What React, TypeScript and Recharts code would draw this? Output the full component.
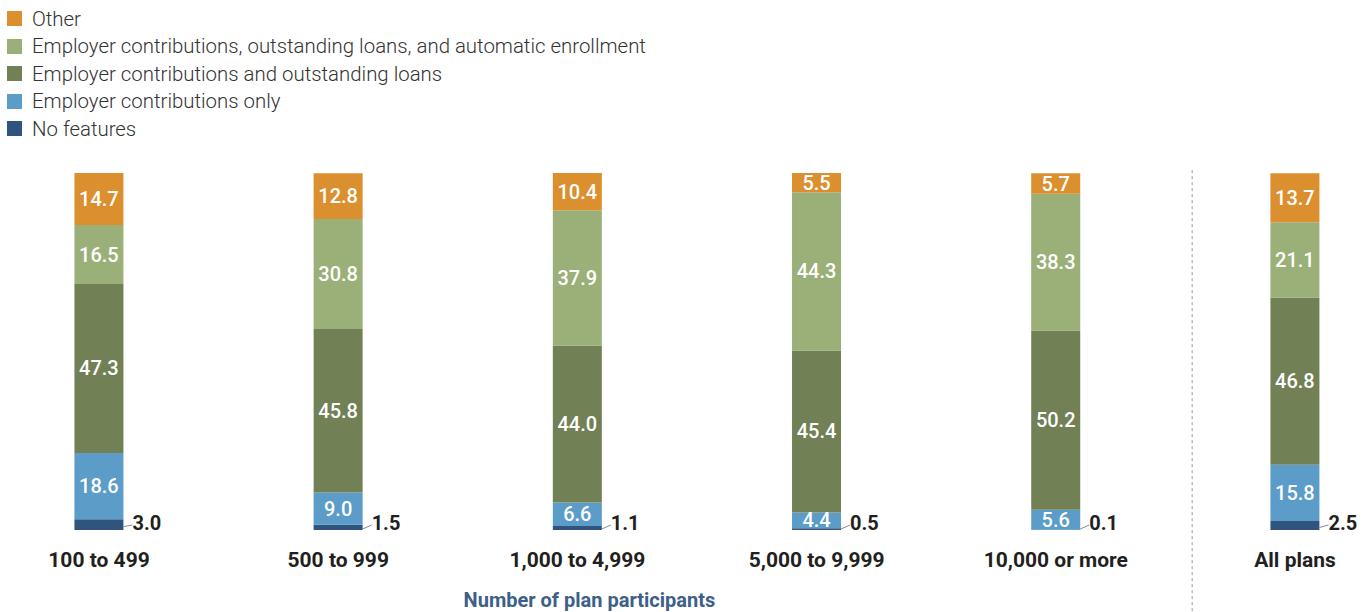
import { Bar, BarChart, LabelList, Legend, ReferenceLine, XAxis, YAxis } from "recharts"

const categories = ["100 to 499", "500 to 999", "1,000 to 4,999", "5,000 to 9,999", "10,000 or more", "All plans"]
const noFeatures = [3.0, 1.5, 1.1, 0.5, 0.1, 2.5]
const contribOnly = [18.6, 9.0, 6.6, 4.4, 5.6, 15.8]
const contribLoans = [47.3, 45.8, 44.0, 45.4, 50.2, 46.8]
const contribLoansAuto = [16.5, 30.8, 37.9, 44.3, 38.3, 21.1]
const other = [14.7, 12.8, 10.4, 5.5, 5.7, 13.7]

const series = [
  { key: "none", name: "No features", color: "#2f557e" },
  { key: "only", name: "Employer contributions only", color: "#5b9cc8" },
  { key: "loans", name: "Employer contributions and outstanding loans", color: "#728055" },
  { key: "auto", name: "Employer contributions, outstanding loans, and automatic enrollment", color: "#9bb078" },
  { key: "other", name: "Other", color: "#db8f2e" },
]

const data = categories.map((category, i) => ({
  idx: i,
  category,
  none: noFeatures[i],
  only: contribOnly[i],
  loans: contribLoans[i],
  auto: contribLoansAuto[i],
  other: other[i],
}))

const FONT = "Roboto, 'Open Sans', sans-serif"
const X_DOMAIN: [number, number] = [-0.414, 5.28]

const InsideLabel = (props: any) => {
  const { x, y, width, height, value } = props
  return (
    <text
      x={x + width / 2}
      y={y + height / 2 + 7}
      textAnchor="middle"
      fill="#fff"
      fontSize={20}
      fontWeight={500}
      fontFamily={FONT}
    >
      {Number(value).toFixed(1)}
    </text>
  )
}

const OutsideLabel = (props: any) => {
  const { x, y, width, height, value } = props
  const right = x + width
  const bottom = y + height
  return (
    <g>
      <line x1={right} y1={Math.min(y + height / 2 + 2, bottom - 1)} x2={right + 9} y2={bottom - 5} stroke="#8a8a8a" strokeWidth={1} />
      <text x={right + 9} y={bottom} fill="#231f20" fontSize={20} fontWeight={700} fontFamily={FONT}>
        {Number(value).toFixed(1)}
      </text>
    </g>
  )
}

const CategoryTick = (props: any) => {
  const { x, y, payload } = props
  return (
    <text x={x} y={y + 37} textAnchor="middle" fill="#231f20" fontSize={21} fontWeight={700} fontFamily={FONT}>
      {categories[payload.value]}
    </text>
  )
}

const AxisTitle = (props: any) => {
  const vb = props.viewBox
  const cx = vb.x + ((2.05 - X_DOMAIN[0]) / (X_DOMAIN[1] - X_DOMAIN[0])) * vb.width
  return (
    <text x={cx} y={vb.y + 77} textAnchor="middle" fill="#3d5f88" fontSize={20} fontWeight={700} fontFamily={FONT}>
      Number of plan participants
    </text>
  )
}

const LegendList = () => {
  const items = [...series].reverse()
  return (
    <div style={{ fontFamily: FONT }}>
      {items.map((item) => (
        <div key={item.key} style={{ display: "flex", alignItems: "center", height: 27.5 }}>
          <div style={{ width: 15, height: 15, backgroundColor: item.color, marginRight: 10 }} />
          <span style={{ fontSize: 20.4, fontWeight: 300, color: "#333" }}>{item.name}</span>
        </div>
      ))}
    </div>
  )
}

export default function App() {
  return (
    <div style={{ position: "absolute", left: 0, top: 0, width: 1362, height: 612, background: "#fff" }}>
      <BarChart width={1362} height={612} data={data} margin={{ top: 173, right: 0, bottom: 22, left: 0 }}>
        <XAxis
          type="number"
          dataKey="idx"
          domain={X_DOMAIN}
          ticks={[0, 1, 2, 3, 4, 5]}
          allowDataOverflow
          axisLine={false}
          tickLine={false}
          tickSize={0}
          tickMargin={0}
          height={60}
          tick={<CategoryTick />}
          label={<AxisTitle />}
        />
        <YAxis hide domain={[0, 100]} allowDataOverflow />
        <Legend
          layout="horizontal"
          verticalAlign="middle"
          align="center"
          wrapperStyle={{ top: 5, left: 7, width: 700 }}
          content={<LegendList />}
        />
        <ReferenceLine
          segment={[{ x: 4.57, y: 100.8 }, { x: 4.57, y: -23 }]}
          stroke="#9a9a9a"
          strokeDasharray="3 3"
          ifOverflow="visible"
        />
        {series.map((s) => (
          <Bar key={s.key} dataKey={s.key} name={s.name} stackId="a" fill={s.color} barSize={49} isAnimationActive={false}>
            <LabelList dataKey={s.key} content={s.key === "none" ? <OutsideLabel /> : <InsideLabel />} />
          </Bar>
        ))}
      </BarChart>
    </div>
  )
}
